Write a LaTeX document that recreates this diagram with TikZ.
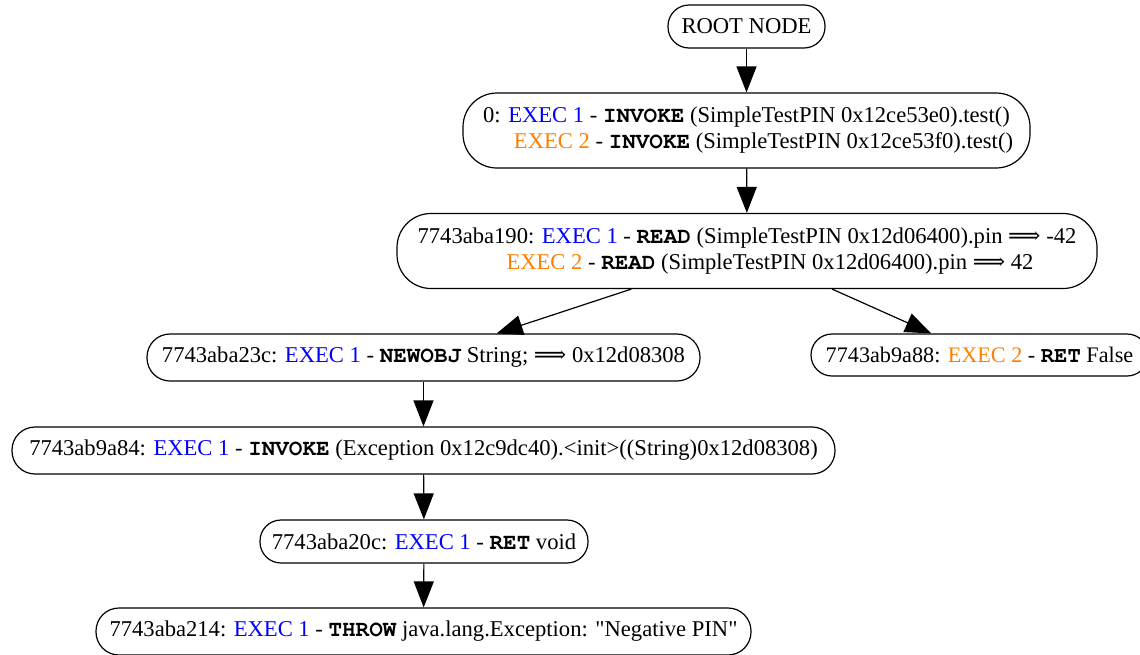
\documentclass[tikz,border=0pt]{standalone}
\usepackage[T1,TU]{fontenc}
\usepackage{fontspec}
\setmainfont{Liberation Serif}
\newfontfamily\arrowfont{DejaVu Serif}
\usetikzlibrary{arrows.meta}
\definecolor{exone}{RGB}{0,0,255}
\definecolor{extwo}{RGB}{255,127,0}
\newcommand{\eone}{\textcolor{exone}{EXEC 1}}
\newcommand{\etwo}{\textcolor{extwo}{EXEC 2}}
\newcommand{\opc}[1]{{\fontencoding{T1}\fontfamily{pcr}\fontseries{b}\selectfont #1}}
\newcommand{\impl}{{\arrowfont ⟹}}
\begin{document}
\begin{tikzpicture}[x=1pt,y=-1pt,
  gnode/.style={draw, line width=1.2pt, rounded corners=21pt, inner sep=0pt,
    font=\fontsize{22.6}{26}\selectfont, align=center, minimum height=43pt},
  tallnode/.style={gnode, rounded corners=34pt, minimum height=75pt},
  edge/.style={-{Triangle[length=26pt,width=20pt]}, line width=1.2pt}]
\useasboundingbox (0,0) rectangle (1140,654);
\clip (0,0) rectangle (1140,654);
\node[gnode, minimum width=157pt] (root) at (746.5,26.5) {ROOT NODE};
\node[tallnode, minimum width=567pt] (n0) at (746.5,130.5)
  {0: \eone{} - \opc{INVOKE} (SimpleTestPIN 0x12ce53e0).test()\\
   \hspace*{34pt}\etwo{} - \opc{INVOKE} (SimpleTestPIN 0x12ce53f0).test()};
\node[tallnode, minimum width=700pt] (n1) at (747,251)
  {7743aba190: \eone{} - \opc{READ} (SimpleTestPIN 0x12d06400).pin \impl{} -42\\
   \hspace*{46pt}\etwo{} - \opc{READ} (SimpleTestPIN 0x12d06400).pin \impl{} 42};
\node[gnode, minimum width=553pt, minimum height=47pt, rounded corners=23pt] (n2) at (423.5,357.5)
  {7743aba23c: \eone{} - \opc{NEWOBJ} String; \impl{} 0x12d08308};
\node[gnode, minimum width=337pt, minimum height=42pt, font=\fontsize{22.2}{26}\selectfont] (n3) at (979.5,355)
  {7743ab9a88: \etwo{} - \opc{RET} False};
\node[gnode, minimum width=823pt, minimum height=47pt, rounded corners=23pt] (n4) at (423.5,450.5)
  {7743ab9a84: \eone{} - \opc{INVOKE} (Exception 0x12c9dc40).<init>((String)0x12d08308)};
\node[gnode, minimum width=328pt] (n5) at (424,541.5)
  {7743aba20c: \eone{} - \opc{RET} void};
\node[gnode, minimum width=655pt, minimum height=47pt, rounded corners=23pt] (n6) at (423.5,631.5)
  {7743aba214: \eone{} - \opc{THROW} java.lang.Exception: \textquotedbl Negative PIN\textquotedbl};
\draw[edge] (root) -- (n0);
\draw[edge] (n0) -- (n1);
\draw[edge] (n1) -- (n2);
\draw[edge] (n1) -- (n3);
\draw[edge] (n2) -- (n4);
\draw[edge] (n4) -- (n5);
\draw[edge] (n5) -- (n6);
\end{tikzpicture}
\end{document}
